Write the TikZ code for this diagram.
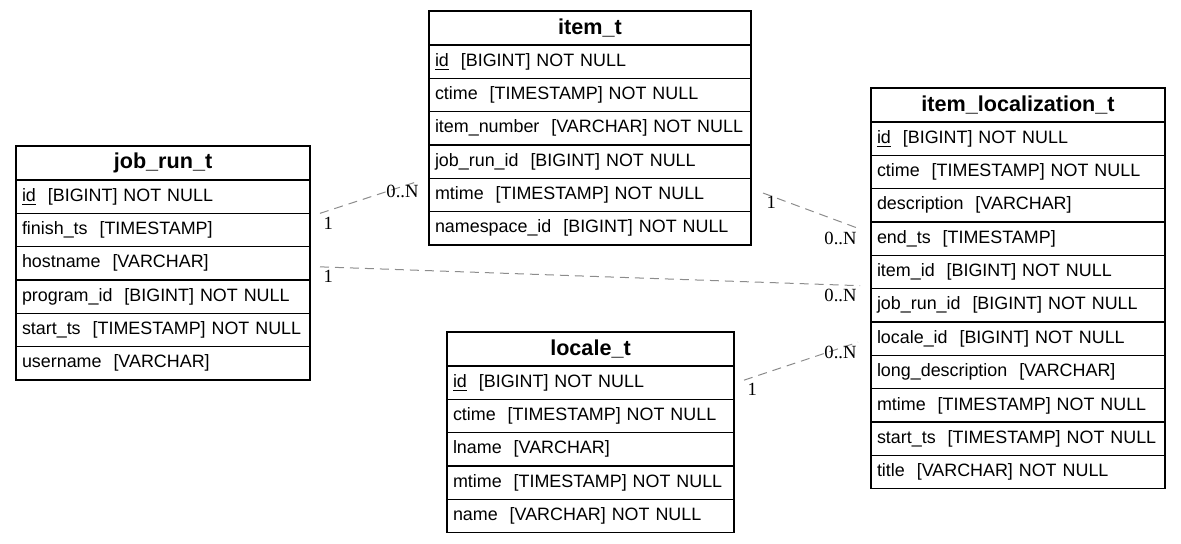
\documentclass[tikz,border=0pt]{standalone}
\usepackage{fontspec}
\setmainfont{Liberation Sans}
\newfontfamily\cardfont{Liberation Serif}
\usetikzlibrary{positioning}

\begin{document}
\begin{tikzpicture}[
  x=0.5pt, y=-0.5pt,
  node distance = 0pt,                      % rows sit on each other
  title/.style = {draw,
                  line width=0.6pt,
                  outer sep=0pt,
                  minimum height=17pt,
                  inner xsep=1.5pt, inner ysep=0pt,
                  align=center,
                  font=\fontsize{10.8}{12}\selectfont\bfseries},
  field/.style = {draw,
                  line width=0.6pt,
                  outer sep=0pt,
                  minimum height=16.67pt,
                  inner xsep=1.5pt, inner ysep=0pt,
                  align=left,
                  execute at begin node={\hspace*{1.5pt}},
                  font=\fontsize{8.95}{11}\selectfont},
  rel/.style   = {draw=black!45, line width=0.5pt,
                  dash pattern=on 4.5pt off 3pt},
  one/.style   = {anchor=north west, inner sep=1.5pt,
                  font=\cardfont\fontsize{9.3}{10}\selectfont},
  many/.style  = {anchor=north east, inner sep=1.5pt,
                  font=\cardfont\fontsize{9.3}{10}\selectfont}
]
\useasboundingbox (0,0) rectangle (1181,544);

% job_run_t
\begin{scope}[nodes={text width=144pt}]
\node[title, anchor=north west] (jr)       at (16,146) {job\_run\_t};
\node[field, below=of jr]       (jr-id)    {\underline{id}\ \ [BIGINT] NOT NULL};
\node[field, below=of jr-id]    (jr-fin)   {finish\_ts\ \ [TIMESTAMP]};
\node[field, below=of jr-fin]   (jr-host)  {hostname\ \ [VARCHAR]};
\node[field, below=of jr-host]  (jr-prog)  {program\_id\ \ [BIGINT] NOT NULL};
\node[field, below=of jr-prog]  (jr-start) {start\_ts\ \ [TIMESTAMP] NOT NULL};
\node[field, below=of jr-start] (jr-user)  {username\ \ [VARCHAR]};
\end{scope}

% item_t
\begin{scope}[nodes={text width=158pt}]
\node[title, anchor=north west] (it)       at (429,11) {item\_t};
\node[field, below=of it]       (it-id)    {\underline{id}\ \ [BIGINT] NOT NULL};
\node[field, below=of it-id]    (it-ctime) {ctime\ \ [TIMESTAMP] NOT NULL};
\node[field, below=of it-ctime] (it-num)   {item\_number\ \ [VARCHAR] NOT NULL};
\node[field, below=of it-num]   (it-job)   {job\_run\_id\ \ [BIGINT] NOT NULL};
\node[field, below=of it-job]   (it-mtime) {mtime\ \ [TIMESTAMP] NOT NULL};
\node[field, below=of it-mtime] (it-ns)    {namespace\_id\ \ [BIGINT] NOT NULL};
\end{scope}

% item_localization_t
\begin{scope}[nodes={text width=144pt}]
\node[title, anchor=north west] (il)       at (871,88) {item\_localization\_t};
\node[field, below=of il]       (il-id)    {\underline{id}\ \ [BIGINT] NOT NULL};
\node[field, below=of il-id]    (il-ctime) {ctime\ \ [TIMESTAMP] NOT NULL};
\node[field, below=of il-ctime] (il-desc)  {description\ \ [VARCHAR]};
\node[field, below=of il-desc]  (il-end)   {end\_ts\ \ [TIMESTAMP]};
\node[field, below=of il-end]   (il-item)  {item\_id\ \ [BIGINT] NOT NULL};
\node[field, below=of il-item]  (il-job)   {job\_run\_id\ \ [BIGINT] NOT NULL};
\node[field, below=of il-job]   (il-loc)   {locale\_id\ \ [BIGINT] NOT NULL};
\node[field, below=of il-loc]   (il-long)  {long\_description\ \ [VARCHAR]};
\node[field, below=of il-long]  (il-mtime) {mtime\ \ [TIMESTAMP] NOT NULL};
\node[field, below=of il-mtime] (il-start) {start\_ts\ \ [TIMESTAMP] NOT NULL};
\node[field, below=of il-start] (il-title) {title\ \ [VARCHAR] NOT NULL};
\end{scope}

% locale_t
\begin{scope}[nodes={text width=140.5pt}]
\node[title, anchor=north west] (lc)       at (447,332) {locale\_t};
\node[field, below=of lc]       (lc-id)    {\underline{id}\ \ [BIGINT] NOT NULL};
\node[field, below=of lc-id]    (lc-ctime) {ctime\ \ [TIMESTAMP] NOT NULL};
\node[field, below=of lc-ctime] (lc-lname) {lname\ \ [VARCHAR]};
\node[field, below=of lc-lname] (lc-mtime) {mtime\ \ [TIMESTAMP] NOT NULL};
\node[field, below=of lc-mtime] (lc-name)  {name\ \ [VARCHAR] NOT NULL};
\end{scope}

% relations
\draw[rel] ([xshift=5pt]jr-id.south east)
        -- ([xshift=-5.5pt,yshift=-1.5pt]it-job.south west)
           node[pos=0, one] {1} node[pos=1, many, xshift=2pt] {0..N};
\draw[rel] ([xshift=6pt,yshift=1pt]it-mtime.east)
        -- ([xshift=-5.5pt,yshift=-3.5pt]il-desc.south west)
           node[pos=0, one] {1} node[pos=1, many] {0..N};
\draw[rel] ([xshift=5pt,yshift=-1.75pt]jr-host.east)
        -- ([xshift=-5.5pt,yshift=1.5pt]il-job.north west)
           node[pos=0, one] {1} node[pos=1, many] {0..N};
\draw[rel] ([xshift=5pt,yshift=1.25pt]lc-id.east)
        -- ([xshift=-6.5pt,yshift=-1.75pt]il-loc.west)
           node[pos=0, one] {1} node[pos=1, many, xshift=1pt] {0..N};

\end{tikzpicture}
\end{document}
